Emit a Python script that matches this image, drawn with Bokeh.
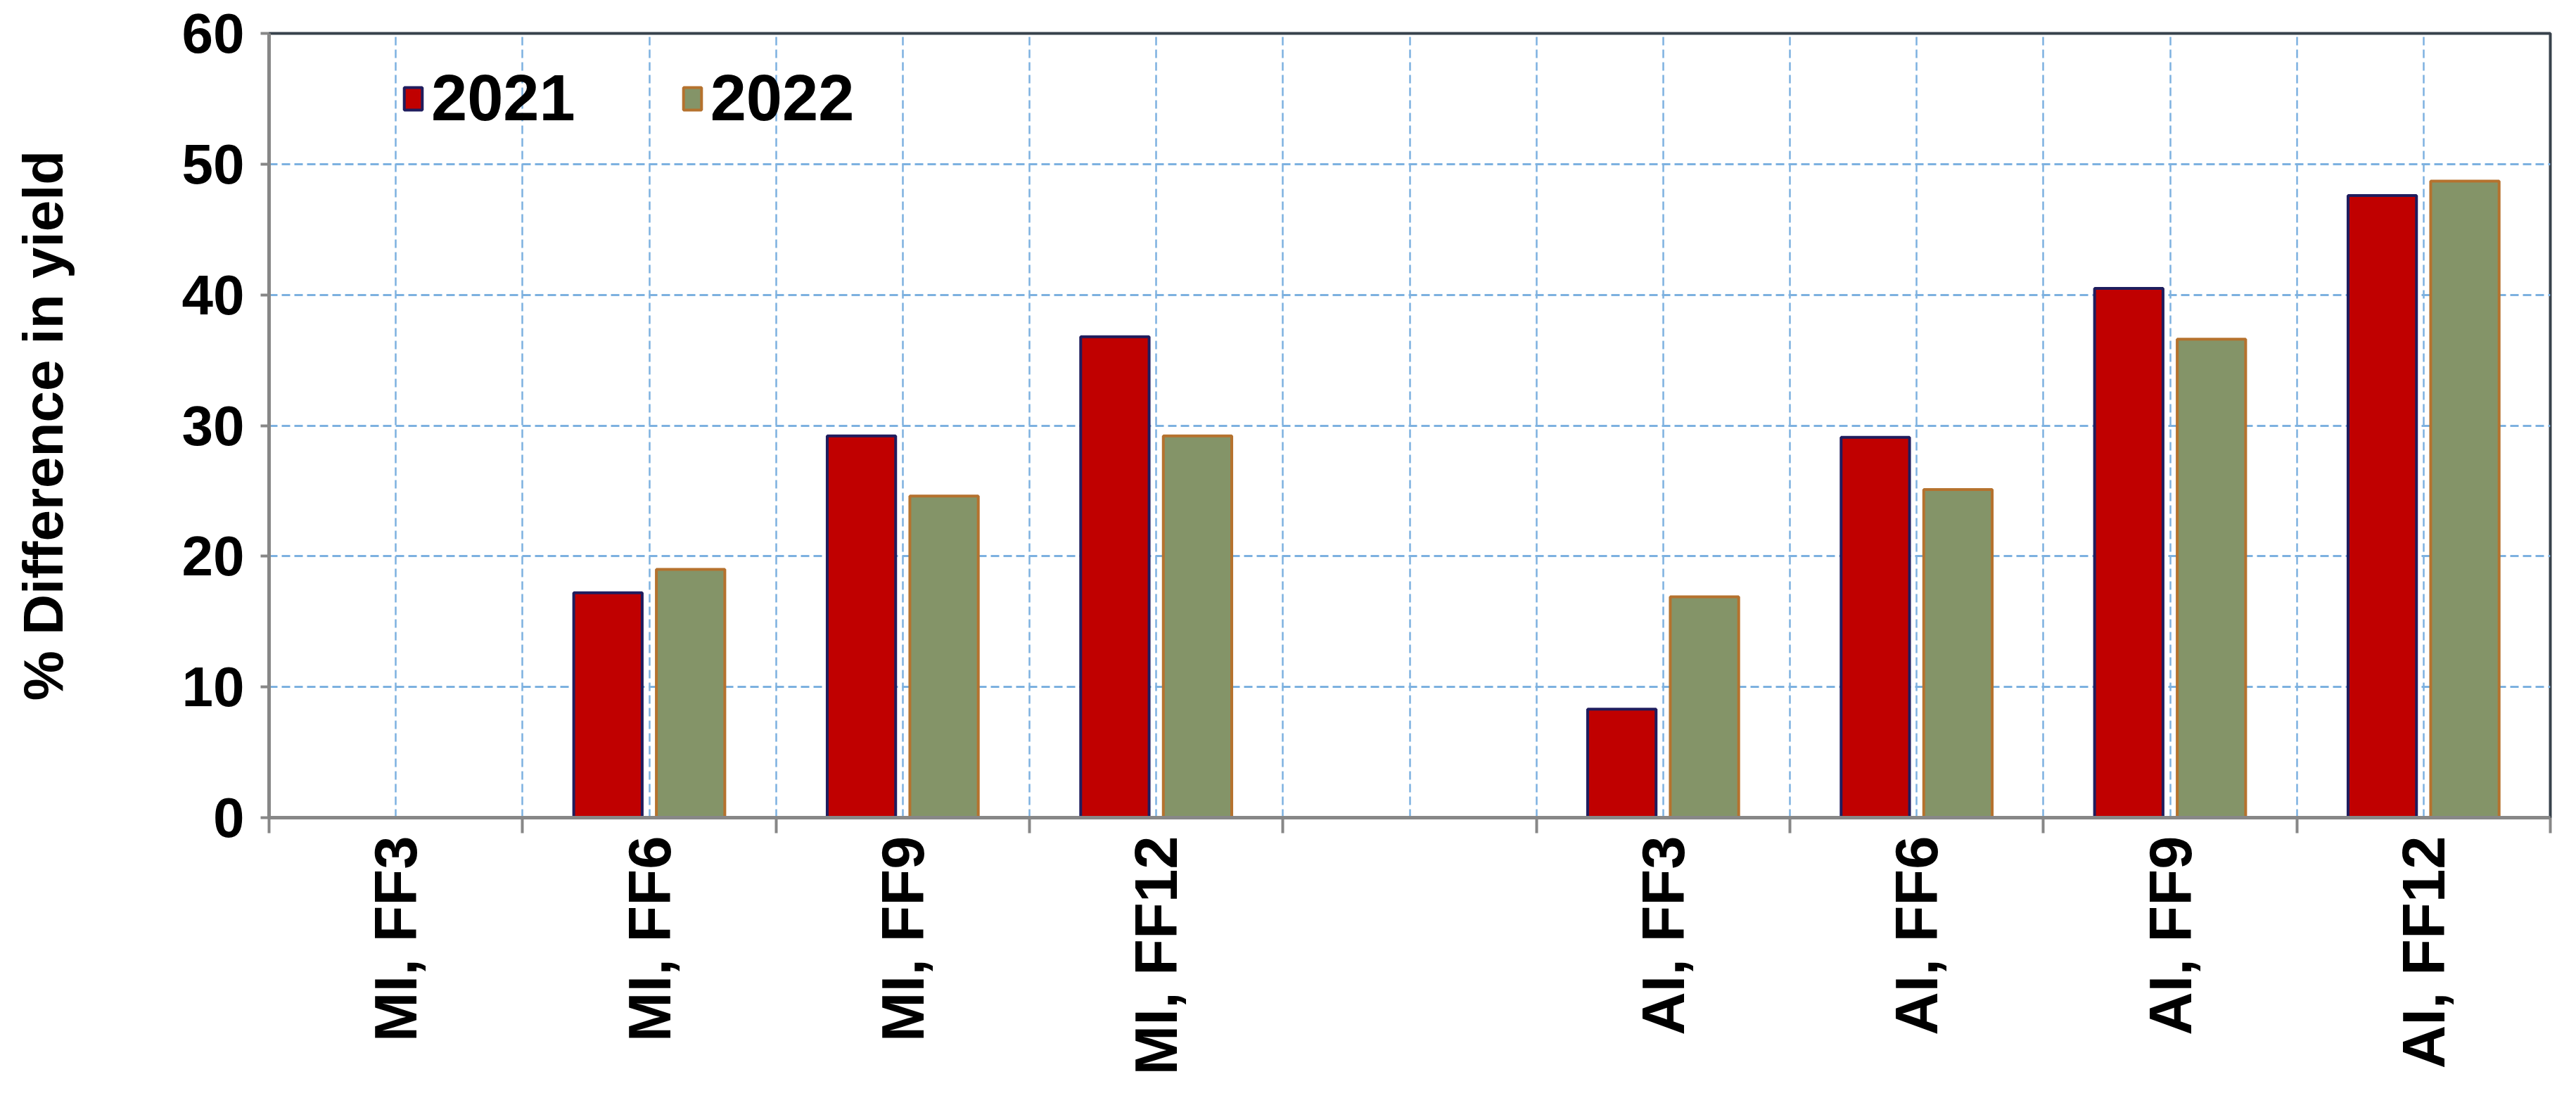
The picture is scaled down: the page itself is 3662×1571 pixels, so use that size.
import math
from bokeh.plotting import figure
from bokeh.models import Range1d, FixedTicker, Legend, LegendItem, ColumnDataSource
from bokeh.transform import dodge
from bokeh.embed import file_html
from bokeh.resources import INLINE

categories = ["MI, FF3", "MI, FF6", "MI, FF9", "MI, FF12", "",
              "AI, FF3", "AI, FF6", "AI, FF9", "AI, FF12"]
y2021 = [0, 17.2, 29.2, 36.8, float("nan"), 8.3, 29.1, 40.5, 47.6]
y2022 = [0, 19.0, 24.6, 29.2, float("nan"), 16.9, 25.1, 36.6, 48.7]
years = ["2021", "2022"]
y_ticks = [0, 10, 20, 30, 40, 50, 60]

FONT = "Liberation Sans"
GRID = "#7DB1E0"
AXIS = "#878787"

pos = list(range(len(categories)))
src = ColumnDataSource(dict(x=pos, y2021=y2021, y2022=y2022, cat=categories))

p = figure(width=3646, height=1555, output_backend="svg", toolbar_location=None,
           x_range=Range1d(-0.5, len(categories) - 0.5),
           y_range=Range1d(y_ticks[0], y_ticks[-1]),
           min_border_left=382, min_border_right=21,
           min_border_top=47, min_border_bottom=393)
p.background_fill_color = "white"
p.border_fill_color = "white"
p.outline_line_color = "#38424c"
p.outline_line_width = 4

r1 = p.vbar(x=dodge("x", -0.163, range=p.x_range), top="y2021", width=0.27, source=src,
            fill_color="#C00000", line_color="#1F1D5E", line_width=4)
r2 = p.vbar(x=dodge("x", 0.163, range=p.x_range), top="y2022", width=0.27, source=src,
            fill_color="#849468", line_color="#B5722E", line_width=4)

# x axis
xa = p.xaxis[0]
xa.ticker = FixedTicker(ticks=pos, minor_ticks=[i - 0.5 for i in range(len(categories) + 1)])
xa.major_label_overrides = {i: c for i, c in zip(pos, categories)}
xa.major_label_orientation = math.pi / 2
xa.major_label_text_font = FONT
xa.major_label_text_font_style = "bold"
xa.major_label_text_font_size = "85px"
xa.major_label_text_color = "black"
xa.major_label_standoff = 4
xa.major_tick_out = 0
xa.major_tick_in = 0
xa.minor_tick_out = 22
xa.minor_tick_in = 0
xa.minor_tick_line_color = AXIS
xa.minor_tick_line_width = 4
xa.axis_line_color = AXIS
xa.axis_line_width = 5

# y axis
ya = p.yaxis[0]
ya.ticker = FixedTicker(ticks=y_ticks)
ya.major_label_text_font = FONT
ya.major_label_text_font_style = "bold"
ya.major_label_text_font_size = "80px"
ya.major_label_text_color = "black"
ya.major_label_standoff = 23
ya.major_tick_out = 12
ya.major_tick_in = 0
ya.major_tick_line_color = AXIS
ya.major_tick_line_width = 4
ya.minor_tick_line_color = None
ya.axis_line_color = AXIS
ya.axis_line_width = 5
ya.axis_label = "% Difference in yield"
ya.axis_label_text_font = FONT
ya.axis_label_text_font_style = "bold"
ya.axis_label_text_font_size = "80px"
ya.axis_label_text_color = "black"
ya.axis_label_standoff = 150

# grids
p.xgrid.grid_line_color = GRID
p.xgrid.grid_line_width = 2.5
p.xgrid.grid_line_dash = "12 6"
p.xgrid.minor_grid_line_color = GRID
p.xgrid.minor_grid_line_width = 2.5
p.xgrid.minor_grid_line_dash = "12 6"
p.ygrid.grid_line_color = GRID
p.ygrid.grid_line_width = 3
p.ygrid.grid_line_dash = "12 6"

legend = Legend(items=[LegendItem(label=years[0], renderers=[r1]),
                       LegendItem(label=years[1], renderers=[r2])],
                orientation="horizontal", location=(189, 970))
legend.background_fill_alpha = 0
legend.border_line_alpha = 0
legend.padding = 0
legend.margin = 0
legend.spacing = 150
legend.glyph_width = 32
legend.glyph_height = 40
legend.label_standoff = 10
legend.label_text_font = FONT
legend.label_text_font_style = "bold"
legend.label_text_font_size = "92px"
legend.label_text_color = "black"
p.add_layout(legend)

open("out.html", "w").write(file_html(p, INLINE))
